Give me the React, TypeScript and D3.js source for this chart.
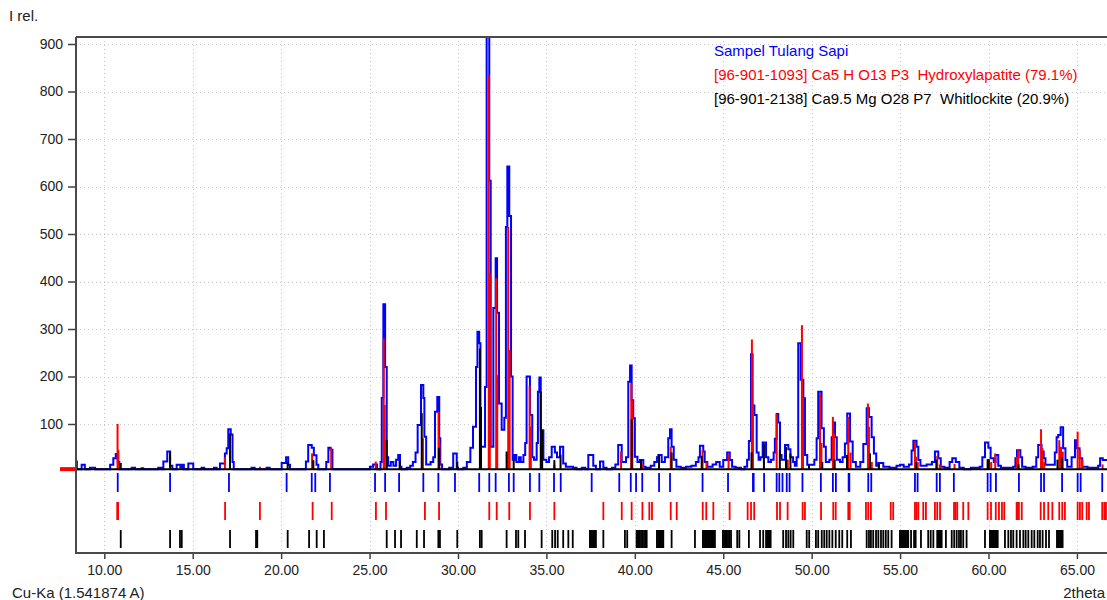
import { useEffect, useRef } from "react";
import * as d3 from "d3";

// x axis (2theta) and y axis (I rel.) ticks
const xTicks = [10, 15, 20, 25, 30, 35, 40, 45, 50, 55, 60, 65];
const yTicks = [100, 200, 300, 400, 500, 600, 700, 800, 900];

// observed pattern, [2theta, I] step points
const observed: [number, number][] = [
  [8.4, 21], [8.45, 5], [8.72, 14], [8.9, 5], [9.19, 8], [9.48, 5],
  [10.33, 14], [10.51, 28], [10.65, 37], [10.76, 20], [10.85, 5],
  [11.55, 8], [11.74, 5], [12.11, 7], [12.2, 5],
  [13.05, 8], [13.24, 5], [13.34, 21], [13.56, 42], [13.72, 12], [13.85, 5],
  [14.09, 14], [14.3, 8], [14.4, 14], [14.5, 5], [14.75, 17], [15.03, 5], [15.5, 8], [15.65, 5],
  [16.2, 8], [16.35, 5], [16.54, 17], [16.82, 38], [16.92, 49], [17.01, 89], [17.15, 78], [17.25, 20], [17.32, 5],
  [18.33, 8], [18.5, 5], [19.18, 8], [19.35, 5],
  [20.03, 18], [20.28, 30], [20.4, 14], [20.5, 5],
  [21.4, 21], [21.53, 56], [21.73, 50], [21.85, 34], [22.0, 14], [22.1, 5],
  [22.55, 20], [22.67, 50], [22.8, 46], [22.9, 5],
  [25.02, 10], [25.2, 15], [25.42, 5],
  [25.62, 20], [25.69, 155], [25.78, 352], [25.88, 220], [25.97, 30], [26.05, 12],
  [26.2, 20], [26.35, 12], [26.5, 25], [26.62, 35], [26.72, 10], [26.8, 5],
  [27.1, 8], [27.3, 12], [27.45, 20], [27.6, 40], [27.72, 98], [27.91, 182], [28.04, 155], [28.1, 73], [28.2, 15],
  [28.45, 20], [28.6, 30], [28.7, 126], [28.83, 157], [28.94, 70], [29.0, 15], [29.1, 5],
  [29.5, 8], [29.73, 38], [29.93, 8], [30.0, 5],
  [30.3, 8], [30.5, 20], [30.7, 50], [30.85, 94], [31.02, 220], [31.1, 294], [31.2, 270], [31.27, 52],
  [31.53, 178], [31.62, 915], [31.77, 612], [31.85, 52], [32.0, 344], [32.13, 449], [32.21, 334], [32.32, 143],
  [32.47, 88], [32.62, 113], [32.71, 515], [32.79, 642], [32.9, 538], [33.0, 200], [33.09, 25],
  [33.2, 35], [33.3, 20], [33.45, 30], [33.55, 20], [33.7, 35], [33.8, 60], [33.88, 200], [34.07, 119],
  [34.2, 30], [34.3, 25], [34.45, 60], [34.52, 168], [34.6, 198], [34.68, 87], [34.83, 25],
  [35.0, 20], [35.15, 30], [35.3, 52], [35.48, 40], [35.6, 30], [35.77, 52], [35.95, 17], [36.1, 10], [36.5, 8], [36.7, 5],
  [37.0, 8], [37.2, 5], [37.37, 35], [37.65, 12], [37.8, 5], [38.03, 21], [38.22, 8], [38.4, 5],
  [38.7, 8], [38.9, 15], [39.06, 56], [39.26, 20], [39.5, 30], [39.63, 189], [39.73, 223], [39.82, 150],
  [39.91, 112], [40.0, 31], [40.15, 20], [40.29, 24], [40.48, 10], [40.6, 8],
  [40.9, 12], [41.1, 20], [41.25, 30], [41.33, 35], [41.52, 20], [41.7, 30], [41.89, 70], [41.99, 89],
  [42.08, 52], [42.2, 25], [42.35, 10], [42.6, 8], [42.9, 10], [43.2, 12], [43.45, 20], [43.6, 30],
  [43.68, 54], [43.87, 42], [43.95, 20], [44.1, 10], [44.4, 15], [44.6, 20], [44.8, 10], [45.0, 24],
  [45.22, 40], [45.37, 24], [45.5, 10], [45.7, 8], [46.0, 5], [46.2, 10], [46.35, 25], [46.45, 64],
  [46.57, 247], [46.66, 139], [46.76, 119], [46.89, 40], [47.0, 25], [47.1, 30], [47.23, 61], [47.42, 30],
  [47.55, 20], [47.7, 25], [47.85, 40], [47.92, 69], [48.02, 121], [48.11, 103], [48.21, 35], [48.3, 25],
  [48.49, 56], [48.68, 47], [48.8, 30], [48.95, 20], [49.05, 12], [49.15, 30], [49.24, 270], [49.38, 193],
  [49.53, 154], [49.62, 35], [49.75, 14], [50.0, 14], [50.15, 25], [50.28, 70], [50.37, 168], [50.56, 91],
  [50.69, 52], [50.8, 20], [51.0, 25], [51.13, 72], [51.22, 103], [51.32, 72], [51.42, 25], [51.6, 20],
  [51.75, 30], [51.88, 59], [52.01, 122], [52.17, 63], [52.32, 20], [52.5, 10], [52.75, 20], [52.92, 58],
  [53.11, 133], [53.24, 115], [53.39, 72], [53.52, 38], [53.65, 12], [53.77, 18], [54.05, 10], [54.4, 8],
  [54.8, 12], [55.0, 14], [55.2, 10], [55.5, 15], [55.65, 44], [55.75, 65], [55.93, 52], [56.03, 24],
  [56.15, 12], [56.5, 15], [56.8, 20], [56.97, 42], [57.16, 28], [57.3, 10], [57.5, 8], [57.8, 20],
  [57.95, 28], [58.15, 20], [58.35, 8], [58.6, 5], [59.0, 8], [59.5, 10], [59.65, 30], [59.8, 61],
  [59.99, 50], [60.12, 28], [60.3, 20], [60.4, 35], [60.55, 12], [60.7, 8], [61.0, 8], [61.4, 10],
  [61.52, 28], [61.61, 45], [61.8, 30], [61.9, 10], [62.1, 8], [62.5, 10], [62.7, 30], [62.81, 56],
  [63.0, 42], [63.12, 28], [63.22, 14], [63.6, 14], [63.75, 40], [63.85, 72], [63.94, 77], [64.08, 93],
  [64.22, 49], [64.35, 24], [64.45, 10], [64.7, 30], [64.89, 66], [64.99, 49], [65.15, 28], [65.3, 10],
  [65.6, 8], [66.0, 8], [66.2, 12], [66.31, 28], [66.46, 24], [66.7, 24],
];

// calculated profiles drawn as sticks, [2theta, I]
const hapSticks: [number, number][] = [
  [10.75, 100], [10.8, 45], [16.82, 30], [18.8, 10], [21.75, 38], [21.8, 22], [22.83, 49],
  [25.35, 21], [25.8, 280], [25.86, 140], [28.02, 70], [28.9, 126], [28.95, 60],
  [31.74, 835], [31.8, 417], [32.16, 407], [32.22, 203], [32.84, 515], [32.92, 256],
  [34.05, 180], [34.12, 94], [35.45, 14], [39.22, 42], [39.8, 186], [39.86, 150], [40.45, 15],
  [42.03, 52], [43.83, 45], [44.05, 20], [45.3, 38], [46.62, 278], [46.68, 140], [48.02, 121],
  [48.65, 25], [49.45, 308], [49.51, 155], [50.47, 165], [50.55, 60], [51.2, 115], [51.26, 80],
  [52.07, 115], [52.2, 40], [53.18, 143], [53.24, 94], [53.4, 20], [55.84, 63], [55.9, 31],
  [56.0, 20], [57.1, 33], [57.25, 15], [58.08, 16], [60.15, 20], [60.38, 38], [61.6, 31],
  [61.68, 47], [62.97, 89], [63.05, 49], [63.15, 20], [64.0, 66], [64.1, 52], [64.2, 42],
  [65.04, 84], [65.16, 45], [65.3, 25], [66.45, 15],
];
const wlkSticks: [number, number][] = [
  [10.93, 18], [13.72, 42], [17.11, 80], [20.37, 20], [21.82, 24], [25.97, 66], [26.7, 24],
  [27.95, 123], [28.92, 50], [29.96, 20], [31.24, 259], [31.3, 136], [32.75, 42], [33.15, 24],
  [34.68, 168], [34.76, 87], [35.45, 24], [35.8, 35], [39.82, 110], [40.35, 24], [41.37, 35],
  [42.08, 40], [43.78, 33], [46.6, 40], [47.3, 59], [48.2, 45], [48.55, 52], [48.8, 38],
  [49.85, 14], [50.6, 20], [51.3, 25], [52.0, 35], [53.3, 38], [53.8, 16], [55.9, 20],
  [57.05, 25], [59.95, 26], [60.02, 26], [61.7, 15], [63.9, 25], [64.15, 30],
];

// peak / reflection positions (tick rows)
const obsPeakPos = [
  8.4, 10.76, 13.72, 17.05, 20.31, 21.73, 21.93, 22.76, 25.31, 25.88, 26.67, 28.04, 28.89, 29.83,
  31.2, 31.77, 32.13, 32.88, 33.15, 34.07, 34.6, 35.43, 35.81, 37.56, 39.12, 39.77, 40.07, 40.42,
  41.37, 41.99, 43.83, 45.27, 46.68, 46.72, 47.31, 48.02, 48.17, 48.35, 48.59, 48.75, 49.48, 50.52,
  51.2, 51.37, 52.09, 52.13, 53.2, 53.37, 55.84, 55.99, 57.07, 57.25, 58.04, 59.95, 60.12, 60.42,
  61.72, 62.97, 63.14, 64.16, 65.04, 65.21, 66.43,
];
const hapRefPos = [
  10.73, 10.78, 16.83, 18.8, 21.78, 22.86, 25.36, 25.93, 28.13, 28.93, 31.77, 32.19, 32.9, 34.07,
  35.45, 38.22, 39.26, 39.82, 40.43, 40.82, 40.97, 42.03, 42.37, 43.84, 44.04, 44.44, 45.36, 46.38,
  46.57, 46.75, 48.04, 48.21, 48.64, 49.49, 49.62, 50.53, 51.22, 51.36, 52.07, 52.15, 53.07, 53.2,
  53.35, 54.47, 54.61, 55.84, 55.93, 56.03, 56.31, 56.46, 56.97, 57.1, 57.26, 58.05, 58.13, 58.23,
  58.57, 58.86, 59.95, 60.14, 60.41, 60.59, 60.76, 60.89, 61.59, 61.65, 61.72, 61.88, 62.95, 63.14,
  63.38, 63.61, 64.0, 64.17, 64.32, 65.04, 65.17, 65.3, 65.55, 65.68, 66.43, 66.55, 66.64,
];
const wlkRefPos = [
  10.93, 13.72, 14.28, 14.38, 17.11, 18.58, 18.65, 20.37, 21.58, 22.01, 22.42, 25.97, 26.44, 26.78,
  27.67, 28.08, 28.89, 28.98, 29.96, 31.24, 31.34, 32.75, 33.28, 33.41, 33.79, 34.73, 35.33, 35.49,
  35.64, 35.95, 36.24, 36.49, 37.46, 37.52, 37.58, 37.64, 37.69, 37.75, 37.8, 38.22, 39.44, 39.57,
  40.1, 40.15, 40.19, 40.27, 40.35, 40.43, 40.52, 40.6, 40.67, 41.25, 41.31, 41.37, 41.43, 41.48,
  41.54, 41.61, 42.08, 43.4, 43.85, 43.91, 43.97, 44.02, 44.08, 44.14, 44.19, 44.25, 44.31, 44.37,
  44.44, 44.53, 44.98, 45.05, 45.13, 45.2, 45.27, 45.35, 45.44, 45.79, 45.91, 46.45, 47.08, 47.26,
  47.42, 47.49, 47.56, 47.62, 47.68, 48.39, 48.55, 48.68, 48.81, 48.96, 49.72, 49.86, 50.24, 50.37,
  50.57, 50.71, 50.85, 51.0, 51.17, 51.36, 51.56, 51.73, 52.01, 52.22, 53.11, 53.24, 53.35, 53.48,
  53.64, 53.77, 53.92, 54.05, 54.19, 54.33, 54.52, 54.99, 55.05, 55.11, 55.16, 55.22, 55.28, 55.33,
  55.4, 55.46, 55.62, 55.79, 55.88, 56.18, 56.59, 56.73, 56.88, 57.1, 57.17, 57.23, 57.29, 57.35,
  57.59, 57.92, 58.06, 58.2, 58.33, 58.44, 58.57, 58.76, 59.8, 60.08, 60.14, 60.2, 60.26, 60.31,
  60.37, 60.42, 60.47, 60.52, 60.93, 61.12, 61.27, 61.4, 61.59, 61.78, 61.97, 62.1, 62.25, 62.44,
  62.59, 62.78, 62.91, 63.06, 63.25, 63.42, 63.87, 63.93, 63.98, 64.04, 64.1, 64.15, 64.19,
];

const legendLines = [
  { text: "Sampel Tulang Sapi", color: "#0000ff" },
  { text: "[96-901-1093] Ca5 H O13 P3  Hydroxylapatite (79.1%)", color: "#ff0000" },
  { text: "[96-901-2138] Ca9.5 Mg O28 P7  Whitlockite (20.9%)", color: "#000000" },
];

function App() {
  const svgRef = useRef<SVGSVGElement>(null);

  useEffect(() => {
    document.body.style.margin = "0";
    const Width = 1107;
    const Height = 600;
    const plot = { left: 76, top: 37, right: 1107, bottom: 553 };
    const baseI = 5; // background level the sticks start from
    const rows = { blue: [473, 492], red: [502, 520], black: [530, 548] };
    const font = "'Liberation Sans', Arial, sans-serif";

    const svg = d3.select(svgRef.current)
      .attr("width", Width)
      .attr("height", Height)
      .style("display", "block")
      .style("font-family", font);
    svg.selectAll("*").remove();

    const xScale = d3.scaleLinear().domain([8.4, 66.7]).range([plot.left, plot.right]);
    const yScale = d3.scaleLinear().domain([0, 900]).range([471.5, 44]);

    svg.append("defs").append("clipPath").attr("id", "plotClip")
      .append("rect")
      .attr("x", plot.left).attr("y", plot.top)
      .attr("width", plot.right - plot.left).attr("height", plot.bottom - plot.top);

    // grid
    const grid = svg.append("g").attr("stroke", "#c8c8c8").attr("stroke-dasharray", "1,3");
    grid.selectAll(".vgrid").data(xTicks).join("line")
      .attr("x1", (d) => Math.round(xScale(d)) + 0.5).attr("x2", (d) => Math.round(xScale(d)) + 0.5)
      .attr("y1", plot.top).attr("y2", plot.bottom);
    grid.selectAll(".hgrid").data(yTicks).join("line")
      .attr("x1", plot.left).attr("x2", plot.right)
      .attr("y1", (d) => Math.round(yScale(d)) + 0.5).attr("y2", (d) => Math.round(yScale(d)) + 0.5);

    const content = svg.append("g").attr("clip-path", "url(#plotClip)");

    // observed profile
    const line = d3.line<[number, number]>()
      .x((d) => xScale(d[0]))
      .y((d) => yScale(d[1]))
      .curve(d3.curveStepAfter);
    content.append("path")
      .datum(observed)
      .attr("fill", "none")
      .attr("stroke", "#0000ff")
      .attr("stroke-width", 2)
      .attr("d", line);

    // calculated phase sticks
    const sticks = (data: [number, number][], color: string) =>
      content.append("g").attr("stroke", color).attr("stroke-width", 2)
        .selectAll("line").data(data).join("line")
        .attr("x1", (d) => xScale(d[0])).attr("x2", (d) => xScale(d[0]))
        .attr("y1", yScale(baseI)).attr("y2", (d) => yScale(d[1]));
    sticks(hapSticks, "#ff0000");
    sticks(wlkSticks, "#000000");

    // baseline
    content.append("line")
      .attr("x1", plot.left).attr("x2", plot.right)
      .attr("y1", yScale(baseI)).attr("y2", yScale(baseI))
      .attr("stroke", "#000").attr("stroke-width", 2);

    // zero marker left of the axis
    svg.append("rect")
      .attr("x", 60).attr("y", yScale(baseI) - 2)
      .attr("width", plot.left - 60).attr("height", 4)
      .attr("fill", "#ff0000");

    // tick rows
    const tickRow = (pos: number[], color: string, r: number[]) =>
      content.append("g").attr("stroke", color).attr("stroke-width", 1.8)
        .selectAll("line").data(pos).join("line")
        .attr("x1", (d) => xScale(d)).attr("x2", (d) => xScale(d))
        .attr("y1", r[0]).attr("y2", r[1]);
    tickRow(obsPeakPos, "#0000ff", rows.blue);
    tickRow(hapRefPos, "#ff0000", rows.red);
    tickRow(wlkRefPos, "#000000", rows.black);

    // axes
    const xAxis = d3.axisBottom(xScale).tickValues(xTicks).tickSize(6).tickPadding(6)
      .tickFormat((d) => d3.format(".2f")(d as number));
    const gx = svg.append("g")
      .attr("transform", "translate(0," + plot.bottom + ")")
      .call(xAxis);
    gx.select(".domain").remove();
    gx.selectAll(".tick line").attr("stroke", "#404040").attr("stroke-width", 1.5);
    gx.selectAll(".tick text").attr("fill", "#222").attr("font-size", 14).attr("font-family", font);

    const yAxis = d3.axisLeft(yScale).tickValues(yTicks).tickSize(8).tickPadding(5);
    const gy = svg.append("g")
      .attr("transform", "translate(" + plot.left + ",0)")
      .call(yAxis);
    gy.select(".domain").remove();
    gy.selectAll(".tick line").attr("stroke", "#404040").attr("stroke-width", 1.5);
    gy.selectAll(".tick text").attr("fill", "#222").attr("font-size", 14).attr("font-family", font);

    // frame
    const frame = svg.append("g").attr("stroke", "#4a4a4a").attr("stroke-width", 2);
    frame.append("line").attr("x1", plot.left).attr("x2", plot.right).attr("y1", plot.top).attr("y2", plot.top);
    frame.append("line").attr("x1", plot.left).attr("x2", plot.left).attr("y1", plot.top).attr("y2", plot.bottom + 1);
    frame.append("line").attr("x1", plot.left).attr("x2", plot.right).attr("y1", plot.bottom).attr("y2", plot.bottom);

    // labels
    svg.append("text").attr("x", 9).attr("y", 21).attr("font-size", 15).attr("fill", "#222").text("I rel.");
    svg.append("text").attr("x", 12).attr("y", 598).attr("font-size", 15).attr("fill", "#222").text("Cu-Ka (1.541874 A)");
    svg.append("text").attr("x", 1105).attr("y", 598).attr("text-anchor", "end")
      .attr("font-size", 15).attr("fill", "#222").text("2theta");

    // legend
    svg.selectAll(".legendLabel").data(legendLines).join("text")
      .attr("class", "legendLabel")
      .attr("x", 714)
      .attr("y", (d, i) => 56 + i * 24)
      .attr("font-size", 15)
      .attr("fill", (d) => d.color)
      .style("white-space", "pre")
      .text((d) => d.text);
  }, []);

  return <svg ref={svgRef}></svg>;
}

export default App;
